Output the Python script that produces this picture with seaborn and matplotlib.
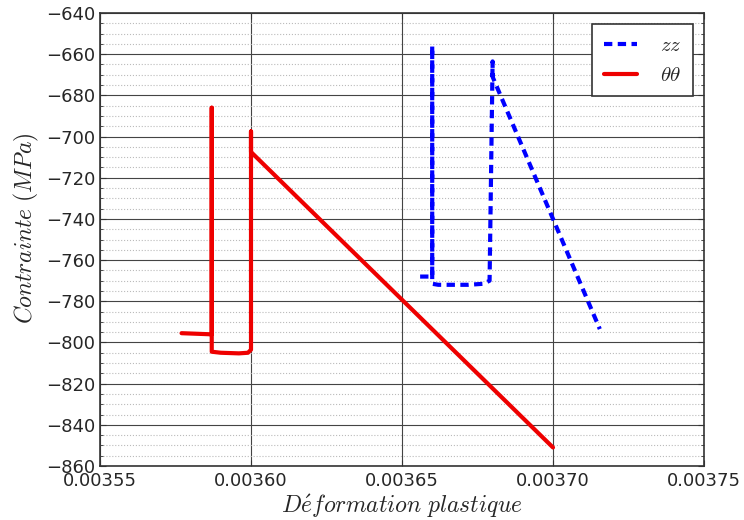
import numpy as np
import pandas as pd
import matplotlib
matplotlib.use("Agg")
import matplotlib.pyplot as plt
import seaborn as sns
from matplotlib.ticker import MultipleLocator

# Data
zz_x = [0.003656, 0.003660, 0.003660, 0.003660, 0.003662, 0.003672, 0.003677, 0.003679, 0.003680, 0.003680, 0.0037155]
zz_y = [-768.0, -768.0, -656.0, -771.5, -772.0, -772.0, -771.5, -770.0, -663.5, -671.0, -793.5]

tt_x = [0.003577, 0.003586, 0.003587, 0.003587, 0.003587, 0.003590, 0.003596, 0.003599, 0.003600, 0.003600, 0.003600, 0.003700]
tt_y = [-795.5, -796.0, -796.0, -686.0, -804.5, -805.0, -805.3, -805.0, -803.5, -697.5, -707.5, -851.0]

series_names = [r"$zz$", r"$\theta\theta$"]
x_ticks = [0.00355, 0.00360, 0.00365, 0.00370, 0.00375]
y_ticks = list(range(-860, -639, 20))

df = pd.concat([
    pd.DataFrame({"x": zz_x, "y": zz_y, "serie": series_names[0]}),
    pd.DataFrame({"x": tt_x, "y": tt_y, "serie": series_names[1]}),
], ignore_index=True)

sns.set_style("white")
plt.rcParams["mathtext.fontset"] = "cm"
plt.rcParams["font.family"] = ["DejaVu Sans"]

fig = plt.figure(figsize=(7.44, 5.20), dpi=100)
ax = fig.add_axes([100/744, 1-466/520, 604/744, 453/520])

sns.lineplot(data=df, x="x", y="y", hue="serie", style="serie", sort=False,
             estimator=None,
             palette={series_names[0]: "#0000ff", series_names[1]: "#ee0000"},
             dashes={series_names[0]: (2.0, 1.3), series_names[1]: ""},
             linewidth=3, ax=ax, legend=True)

ax.set_xlim(0.00355, 0.00375)
ax.set_ylim(-860, -640)
ax.set_xticks(x_ticks)
ax.set_xticklabels([f"{t:.5f}" for t in x_ticks])
ax.set_yticks(y_ticks)
ax.yaxis.set_minor_locator(MultipleLocator(5))

ax.grid(True, which="major", color="#444444", linestyle="-", linewidth=0.8)
ax.grid(True, which="minor", axis="y", color="#bbbbbb", linestyle=":", linewidth=0.8)
ax.set_axisbelow(True)

ax.tick_params(which="both", direction="in", top=True, right=True, left=True, bottom=True,
               labelsize=13, length=4, color="#333333")
ax.tick_params(which="minor", length=2)
ax.tick_params(axis="x", which="major", pad=4)

for s in ax.spines.values():
    s.set_color("#333333")
    s.set_linewidth(1.2)

ax.set_xlabel(r"$D\acute{e}formation\ plastique$", fontsize=17, labelpad=2)
ax.set_ylabel(r"$Contrainte\ (MPa)$", fontsize=17, labelpad=4)
ax.yaxis.set_label_coords(-0.098, 0.525)

leg = ax.legend(loc="upper right", fontsize=15, frameon=True, fancybox=False,
                edgecolor="#333333", framealpha=1, handlelength=1.6,
                borderpad=0.55, labelspacing=0.45, handletextpad=1.1,
                borderaxespad=0, bbox_to_anchor=(593/604, 1 - 11/453))
leg.get_frame().set_linewidth(1.2)
leg.set_title(None)

fig.savefig("out.png", dpi=100, facecolor="white")
